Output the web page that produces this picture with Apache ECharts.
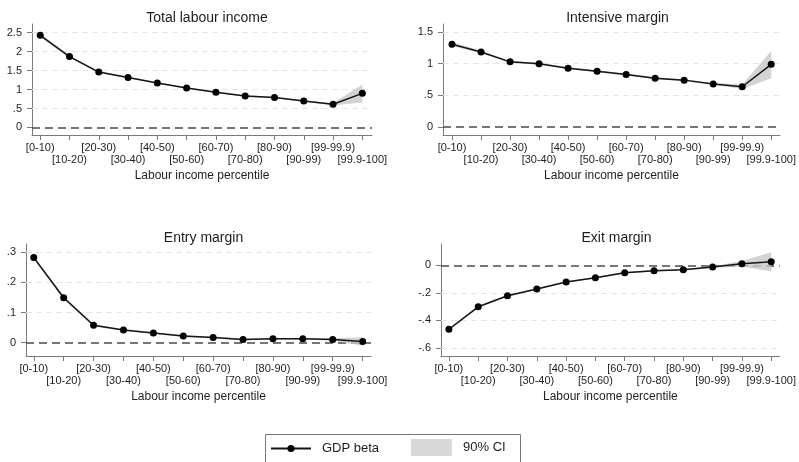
<!DOCTYPE html>
<html>
<head>
<meta charset="utf-8">
<script src="https://cdn.jsdelivr.net/npm/echarts@6/dist/echarts.min.js"></script>
<style>html,body{margin:0;padding:0;background:#fff}#c{width:799px;height:462px}</style>
</head>
<body>
<div id="c"></div>
<script>
const categories = ['[0-10)','[10-20)','[20-30)','[30-40)','[40-50)','[50-60)','[60-70)','[70-80)','[80-90)','[90-99)','[99-99.9)','[99.9-100]'];

const titles = ['Total labour income', 'Intensive margin', 'Entry margin', 'Exit margin'];
const xAxisTitle = 'Labour income percentile';

const totalBeta = [2.43,1.87,1.46,1.32,1.17,1.04,0.93,0.83,0.79,0.70,0.61,0.90];
const totalLo   = [2.39,1.84,1.43,1.30,1.15,1.02,0.91,0.81,0.77,0.68,0.58,0.66];
const totalHi   = [2.47,1.90,1.49,1.34,1.19,1.06,0.95,0.85,0.81,0.72,0.64,1.13];

const intBeta = [1.31,1.185,1.03,1.00,0.93,0.88,0.83,0.77,0.74,0.68,0.635,0.99];
const intLo   = [1.28,1.165,1.015,0.985,0.915,0.865,0.815,0.755,0.725,0.665,0.60,0.77];
const intHi   = [1.34,1.205,1.045,1.015,0.945,0.895,0.845,0.785,0.755,0.695,0.67,1.20];

const entryBeta = [0.282,0.149,0.058,0.042,0.032,0.022,0.017,0.011,0.013,0.013,0.011,0.004];
const entryLo   = [0.276,0.143,0.054,0.039,0.029,0.019,0.014,0.008,0.010,0.010,0.007,-0.010];
const entryHi   = [0.288,0.155,0.062,0.045,0.035,0.025,0.020,0.014,0.016,0.016,0.015,0.018];

const exitBeta = [-0.464,-0.301,-0.221,-0.172,-0.121,-0.090,-0.053,-0.039,-0.032,-0.012,0.012,0.027];
const exitLo   = [-0.474,-0.309,-0.228,-0.178,-0.127,-0.096,-0.059,-0.045,-0.038,-0.018,-0.008,-0.045];
const exitHi   = [-0.454,-0.293,-0.214,-0.166,-0.115,-0.084,-0.047,-0.033,-0.026,-0.006,0.032,0.095];

const totalTicks = [0,0.5,1,1.5,2,2.5];
const intTicks = [0,0.5,1,1.5];
const entryTicks = [0,0.1,0.2,0.3];
const exitTicks = [-0.6,-0.4,-0.2,0];

const FONT = "'Liberation Sans', Arial, sans-serif";
const TXT = '#1e1e1e';
const AX = '#7a7a7a';

const panels = [
  {beta: totalBeta, lo: totalLo, hi: totalHi, ticks: totalTicks, ymin: -0.2, ymax: 2.73,
   grid: {left: 32, top: 24, width: 340, height: 111}, xmin: -0.28, xmax: 11.33},
  {beta: intBeta, lo: intLo, hi: intHi, ticks: intTicks, ymin: -0.13, ymax: 1.63,
   grid: {left: 443, top: 24, width: 339, height: 111}, xmin: -0.31, xmax: 11.30},
  {beta: entryBeta, lo: entryLo, hi: entryHi, ticks: entryTicks, ymin: -0.044, ymax: 0.327,
   grid: {left: 26, top: 244, width: 345, height: 112}, xmin: -0.26, xmax: 11.28},
  {beta: exitBeta, lo: exitLo, hi: exitHi, ticks: exitTicks, ymin: -0.658, ymax: 0.155,
   grid: {left: 441, top: 244, width: 341, height: 112}, xmin: -0.27, xmax: 11.29}
];

const idx = categories.map((c, i) => i);
const evenIdx = idx.filter(i => i % 2 === 0);
const oddIdx = idx.filter(i => i % 2 === 1);
const fmtY = v => {
  const s = String(Math.round(v * 1000) / 1000);
  return s.replace(/^(-?)0\./, '$1.');
};
const fmtX = v => categories[Math.round(v)];

const option = {
  animation: false,
  backgroundColor: '#fff',
  textStyle: {fontFamily: FONT},
  title: [], grid: [], xAxis: [], yAxis: [], series: [],
  legend: [
    {data: ['GDP beta'], left: 270, top: 442, padding: 0, itemWidth: 40, itemHeight: 9,
     selectedMode: false, textStyle: {fontSize: 13, color: TXT, fontFamily: FONT, padding: [0,0,0,6]}},
    {data: [{name: '90% CI', icon: 'rect'}], left: 411, top: 439, padding: 0, itemWidth: 41, itemHeight: 17,
     selectedMode: false, textStyle: {fontSize: 13, color: TXT, fontFamily: FONT, padding: [2,0,0,6]}}
  ],
  graphic: [
    {type: 'rect', left: 263, top: 432, shape: {width: 255, height: 40},
     style: {fill: 'none', stroke: '#777', lineWidth: 1}, z: 0, silent: true}
  ]
};

panels.forEach((p, k) => {
  const g = p.grid;
  option.title.push({
    text: titles[k], left: g.left + g.width / 2, textAlign: 'center', top: g.top - 18,
    textStyle: {fontSize: 14, fontWeight: 'normal', color: TXT, fontFamily: FONT}
  });
  option.grid.push({left: g.left, top: g.top, width: g.width, height: g.height, containLabel: false});
  // main x axis: line, all ticks, even labels, title
  option.xAxis.push({
    type: 'value', gridIndex: k, position: 'bottom', min: p.xmin, max: p.xmax,
    axisLine: {show: true, onZero: false, lineStyle: {color: AX, width: 1}},
    axisTick: {show: true, customValues: idx, length: 5, lineStyle: {color: AX}},
    axisLabel: {customValues: evenIdx, margin: 7, fontSize: 11, color: TXT, fontFamily: FONT,
      showMinLabel: true, showMaxLabel: true, formatter: fmtX},
    splitLine: {show: false},
    name: xAxisTitle, nameLocation: 'middle', nameGap: 35,
    nameTextStyle: {fontSize: 12, color: TXT, fontFamily: FONT}
  });
  // secondary x axis: odd labels on the second row
  option.xAxis.push({
    type: 'value', gridIndex: k, position: 'bottom', min: p.xmin, max: p.xmax,
    axisLine: {show: false, onZero: false},
    axisTick: {show: false},
    axisLabel: {customValues: oddIdx, margin: 19, fontSize: 11, color: TXT, fontFamily: FONT,
      showMinLabel: true, showMaxLabel: true, formatter: fmtX},
    splitLine: {show: false}
  });
  option.yAxis.push({
    type: 'value', gridIndex: k, min: p.ymin, max: p.ymax,
    axisLine: {show: true, onZero: false, lineStyle: {color: AX, width: 1}},
    axisTick: {show: true, customValues: p.ticks, length: 5, lineStyle: {color: AX}},
    axisLabel: {customValues: p.ticks, margin: 10, fontSize: 11, color: TXT, fontFamily: FONT, formatter: fmtY,
      showMinLabel: true, showMaxLabel: true},
    splitLine: {show: false}
  });
  const lo = p.lo, hi = p.hi;
  option.series.push({
    type: 'custom', name: '90% CI', xAxisIndex: 2 * k, yAxisIndex: k,
    data: idx.map(i => [i, lo[i], hi[i]]),
    encode: {x: 0, y: [1, 2]},
    itemStyle: {color: '#d9d9d9'},
    renderItem: function (params, api) {
      if (params.dataIndex !== 0) return;
      const pts = [];
      for (let i = 0; i < hi.length; i++) pts.push(api.coord([i, hi[i]]));
      for (let i = lo.length - 1; i >= 0; i--) pts.push(api.coord([i, lo[i]]));
      return {type: 'polygon', shape: {points: pts}, style: {fill: 'rgba(200,200,200,0.8)', stroke: 'none'}};
    },
    markLine: {
      silent: true, symbol: ['none', 'none'], z: 1, label: {show: false}, animation: false,
      data: p.ticks.filter(t => t !== 0).map(t => ({yAxis: t, lineStyle: {color: '#e6e6e6', type: [6, 4], width: 1}}))
        .concat([{yAxis: 0, lineStyle: {color: '#4a4a4a', type: [8, 5], width: 1.5}}])
    },
    z: 2
  });
  option.series.push({
    type: 'line', name: 'GDP beta', xAxisIndex: 2 * k, yAxisIndex: k,
    data: p.beta.map((v, i) => [i, v]),
    symbol: 'circle', symbolSize: 7,
    lineStyle: {color: '#151515', width: 1.5},
    itemStyle: {color: '#000'},
    z: 3
  });
});

const chart = echarts.init(document.getElementById('c'), null, {renderer: 'canvas'});
chart.setOption(option);
</script>
</body>
</html>
